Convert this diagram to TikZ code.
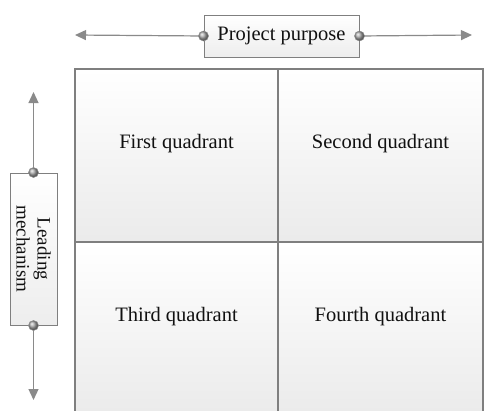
\documentclass[tikz,border=0pt]{standalone}
\usepackage{fontspec}
\setmainfont{Liberation Serif}
\usetikzlibrary{arrows.meta}
\definecolor{linegray}{HTML}{8A8A8A}
\definecolor{bordergray}{HTML}{7F7F7F}
\definecolor{txt}{HTML}{111111}
\begin{document}
\begin{tikzpicture}[x=1pt,y=-1pt,
  cell/.style={draw=bordergray, line width=1.3pt, top color=white, bottom color=black!8, inner sep=0pt},
  qtext/.style={text=txt, font=\fontsize{20.5}{24}\selectfont, inner sep=0pt},
  labbox/.style={draw=bordergray, line width=1pt, top color=white, bottom color=black!7, inner sep=0pt, text=txt},
  conn/.style={draw=linegray, line width=1.2pt, -{Triangle[length=11pt,width=10pt]}, fill=linegray},
  dot/.style={circle, minimum size=10pt, inner sep=0pt, draw=black!45, line width=0.5pt, ball color=black!35}
]
\useasboundingbox (0,0) rectangle (485,410);
\clip (0,0) rectangle (485,410);
% quadrants
\node[cell, minimum width=203pt, minimum height=173pt] (q1) at (176.5,155.5) {};
\node[cell, minimum width=205pt, minimum height=173pt] (q2) at (380.5,155.5) {};
\node[cell, minimum width=203pt, minimum height=173pt] (q3) at (176.5,328.5) {};
\node[cell, minimum width=205pt, minimum height=173pt] (q4) at (380.5,328.5) {};
\node[qtext] (t1) at ([yshift=12pt]q1.center) {First quadrant};
\node[qtext] (t2) at ([yshift=12pt]q2.center) {Second quadrant};
\node[qtext] (t3) at ([yshift=12pt]q3.center) {Third quadrant};
\node[qtext] (t4) at ([yshift=12pt]q4.center) {Fourth quadrant};
% project purpose
\node[labbox, minimum width=155pt, minimum height=42pt, font=\fontsize{20.5}{24}\selectfont] (pp) at (281.5,36) {Project purpose};
\coordinate (aL) at (75,35);
\coordinate (aR) at (472,35);
\draw[conn] (pp.west) -- (aL);
\draw[conn] (pp.east) -- (aR);
\node[dot] (dl) at (pp.west) {};
\node[dot] (dr) at (pp.east) {};
% leading mechanism
\node[labbox, rotate=-90, minimum width=152pt, minimum height=47pt, align=center, font=\fontsize{19}{21}\selectfont] (lm) at (33.5,249) {Leading\\mechanism};
\coordinate (aT) at (33.5,92);
\coordinate (aB) at (33.5,400);
\draw[conn] (lm.west) -- (aT);
\draw[conn] (lm.east) -- (aB);
\node[dot] (dt) at (lm.west) {};
\node[dot] (db) at (lm.east) {};
\end{tikzpicture}
\end{document}
